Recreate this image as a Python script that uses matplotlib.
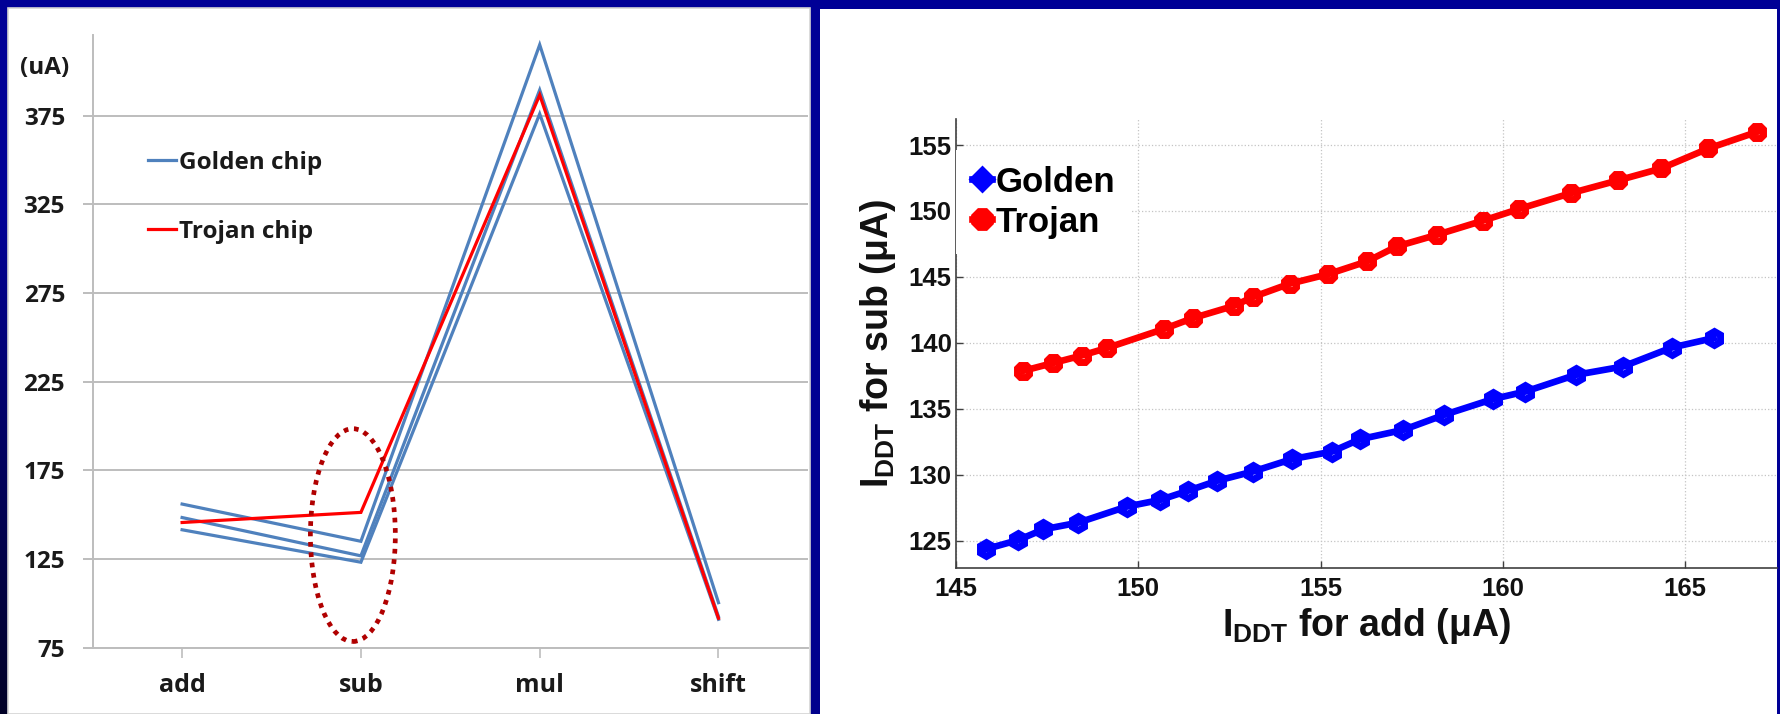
import numpy as np
import matplotlib
matplotlib.use("Agg")
import matplotlib.pyplot as plt
from matplotlib.patches import Rectangle, Ellipse
from matplotlib.lines import Line2D

# ---------------- data ----------------
# Left chart: supply current (uA) per operation
categories = ["add", "sub", "mul", "shift"]
golden_chip_a = [156.0, 135.0, 415.0, 100.4]
golden_chip_b = [148.4, 126.8, 389.5, 92.5]
golden_chip_c = [141.5, 123.2, 376.0, 91.0]
trojan_chip = [145.6, 151.3, 386.7, 91.6]
left_yticks = [75, 125, 175, 225, 275, 325, 375]

# Right chart: IDDT for sub vs IDDT for add (uA)
golden_add = [145.81, 146.71, 147.40, 148.36, 149.68, 150.60, 151.37, 152.15, 153.14, 154.21,
              155.31, 156.08, 157.27, 158.39, 159.72, 160.62, 162.00, 163.29, 164.63, 165.78]
golden_sub = [124.35, 125.05, 125.86, 126.37, 127.58, 128.09, 128.79, 129.53, 130.24, 131.18,
              131.75, 132.69, 133.40, 134.54, 135.73, 136.31, 137.57, 138.20, 139.64, 140.36]
trojan_add = [146.85, 147.65, 148.45, 149.13, 150.71, 151.49, 152.63, 153.14, 154.15, 155.21,
              156.27, 157.09, 158.19, 159.45, 160.43, 161.88, 163.15, 164.34, 165.64, 166.98]
trojan_sub = [137.88, 138.46, 139.04, 139.60, 141.06, 141.87, 142.81, 143.47, 144.48, 145.21,
              146.17, 147.31, 148.19, 149.26, 150.14, 151.36, 152.31, 153.22, 154.74, 156.00]
right_xticks = [145, 150, 155, 160, 165]
right_yticks = [125, 130, 135, 140, 145, 150, 155]

# ---------------- layout helpers (pixel -> figure fraction) ----------------
W, H = 1781, 714


def fx(x):
    return x / W


def fy(y):
    return 1 - y / H


plt.rcParams["mathtext.fontset"] = "custom"
plt.rcParams["mathtext.rm"] = "Liberation Sans"
plt.rcParams["mathtext.bf"] = "Liberation Sans:bold"

fig = plt.figure(figsize=(W / 100, H / 100), dpi=100, facecolor="#000096")

# slide background: navy, fading darker toward the lower left
yy, xx = np.mgrid[0:H, 0:W]
shade = 1 - 0.75 * np.clip((yy / H - 0.3) / 0.7, 0, 1) * np.clip(1 - 2 * xx / W, 0, 1)
bg = np.zeros((H, W, 3))
bg[..., 2] = 0.59 * shade
fig.figimage(bg, xo=0, yo=0, origin="upper", zorder=-10)

# white slide panels
fig.add_artist(Rectangle((fx(8), fy(714)), (810 - 8) / W, (714 - 8) / H,
                         transform=fig.transFigure, facecolor="white",
                         edgecolor="#d4d4d4", lw=1.2, zorder=0))
fig.add_artist(Rectangle((fx(820), fy(714)), (1777 - 820) / W, (714 - 9) / H,
                         transform=fig.transFigure, facecolor="white",
                         edgecolor="none", zorder=0))

# ---------------- left: line chart ----------------
lfont = "Open Sans"
lcolor = "#1a1a1a"
grid_grey = "#BDBDBD"
ax1 = fig.add_axes([fx(92.7), fy(647.7), (807.9 - 92.7) / W, (647.7 - 35) / H])
ax1.patch.set_alpha(0)
xs = list(range(len(categories)))
blue = "#4F81BD"
for series in (golden_chip_a, golden_chip_b, golden_chip_c):
    ax1.plot(xs, series, color=blue, lw=2.3, solid_joinstyle="miter", zorder=3)
ax1.plot(xs, trojan_chip, color="#FF0000", lw=2.3, solid_joinstyle="miter", zorder=4)

ax1.add_patch(Ellipse((0.955, 138.5), 0.475, 120, fill=False, ec="#B00000",
                      lw=3.4, ls=(0, (1, 1.2)), zorder=5))

ax1.set_xlim(-0.5, 3.5)
ax1.set_ylim(75, 420.5)
ax1.set_yticks(left_yticks)
ax1.set_yticklabels([str(v) for v in left_yticks])
ax1.set_xticks(xs)
ax1.set_xticklabels(categories)
ax1.yaxis.grid(True, color=grid_grey, lw=1.4)
ax1.set_axisbelow(True)
for s in ("top", "right"):
    ax1.spines[s].set_visible(False)
for s in ("left", "bottom"):
    ax1.spines[s].set_color(grid_grey)
    ax1.spines[s].set_linewidth(1.4)
ax1.tick_params(axis="y", direction="out", length=7, width=1.4, color=grid_grey,
                pad=13, labelsize=17.5, labelcolor=lcolor)
ax1.tick_params(axis="x", direction="out", length=7, width=1.2, color=grid_grey,
                pad=11, labelsize=18, labelcolor=lcolor)
for lab in ax1.get_xticklabels() + ax1.get_yticklabels():
    lab.set_fontfamily(lfont)
    lab.set_fontweight("bold")

fig.text(fx(20), fy(68), "(uA)", ha="left", va="center", fontsize=17.5,
         fontfamily=lfont, fontweight="bold", color=lcolor)

leg1 = ax1.legend([Line2D([], [], color=blue, lw=2.3), Line2D([], [], color="#FF0000", lw=2.3)],
                  ["Golden chip", "Trojan chip"], loc="upper left",
                  bbox_to_anchor=(fx(148), fy(151)), bbox_transform=fig.transFigure,
                  frameon=False, handlelength=1.15, handletextpad=0.12, labelspacing=1.85,
                  borderpad=0, borderaxespad=0,
                  prop={"family": lfont, "weight": "bold", "size": 17.5})
for t in leg1.get_texts():
    t.set_color(lcolor)

# ---------------- right: scatter-line chart ----------------
rfont = "Liberation Sans"
gold_c, troj_c = "#0000FF", "#FF0000"
ax2 = fig.add_axes([fx(956), fy(567.7), (1777 - 956) / W, (567.7 - 119.3) / H])
ax2.patch.set_alpha(0)
ax2.plot(golden_add, golden_sub, color=gold_c, lw=4.8, marker="h", ms=10, mew=5,
         mfc="none", zorder=3)
ax2.plot(trojan_add, trojan_sub, color=troj_c, lw=4.8, marker="8", ms=10, mew=5,
         mfc="none", zorder=3)

ax2.set_xlim(145, 167.52)
ax2.set_ylim(122.95, 156.95)
ax2.set_xticks(right_xticks)
ax2.set_yticks(right_yticks)
ax2.grid(True, linestyle=":", color="#c4c4c4", lw=0.9)
ax2.set_axisbelow(True)
for s in ("top", "right"):
    ax2.spines[s].set_visible(False)
for s in ("left", "bottom"):
    ax2.spines[s].set_color("#404040")
    ax2.spines[s].set_linewidth(1.2)
ax2.tick_params(axis="both", direction="in", length=5, width=1, color="#404040",
                labelsize=18.5, labelcolor="#111111")
ax2.tick_params(axis="x", pad=7)
ax2.tick_params(axis="y", pad=3)
for lab in ax2.get_xticklabels() + ax2.get_yticklabels():
    lab.set_fontfamily(rfont)
    lab.set_fontweight("bold")

ax2.set_xlabel(r"$\mathbf{I}_{\mathbf{DDT}}$ for add (μA)", fontsize=27,
               fontfamily=rfont, fontweight="bold", labelpad=3, color="#111111")
ax2.set_ylabel(r"$\mathbf{I}_{\mathbf{DDT}}$ for sub (μA)", fontsize=27,
               fontfamily=rfont, fontweight="bold", labelpad=8, color="#111111")

leg_handles = [
    Line2D([], [], color=gold_c, lw=4.8, marker="D", ms=12, mew=2, mfc=gold_c),
    Line2D([], [], color=troj_c, lw=4.8, marker="8", ms=15, mew=2, mfc=troj_c),
]
leg2 = ax2.legend(leg_handles, ["Golden", "Trojan"], loc="upper left",
                  bbox_to_anchor=(fx(956), fy(150)),
                  bbox_transform=fig.transFigure, frameon=True, facecolor="white",
                  edgecolor="none", framealpha=1, fancybox=False,
                  handlelength=0.6, handletextpad=0.1, labelspacing=0.2,
                  borderpad=0.45, borderaxespad=0, numpoints=1,
                  prop={"family": rfont, "weight": "bold", "size": 25})
leg2.set_zorder(6)

fig.savefig("out.png", dpi=100, facecolor=fig.get_facecolor())
